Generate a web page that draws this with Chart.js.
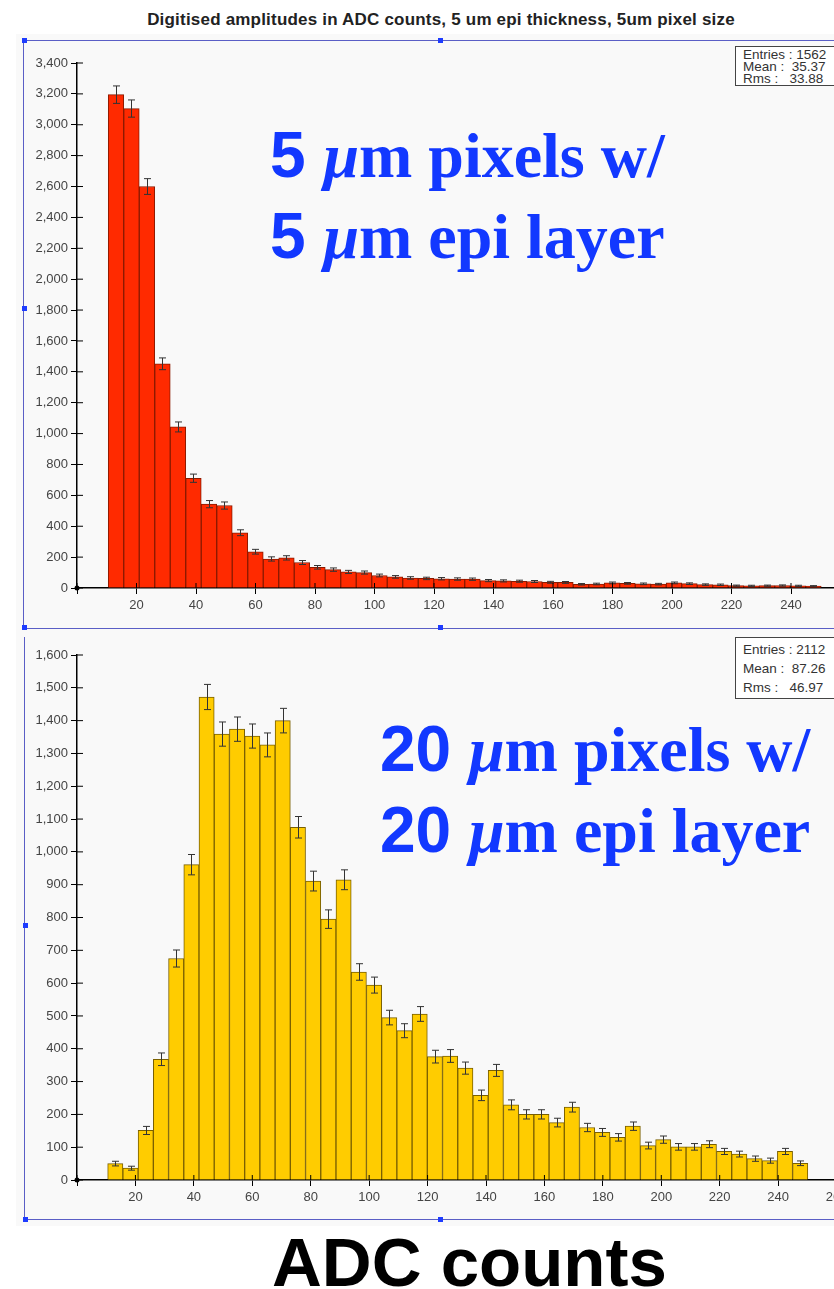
<!DOCTYPE html>
<html>
<head>
<meta charset="utf-8">
<script src="https://cdn.jsdelivr.net/npm/chart.js@4/dist/chart.umd.min.js"></script>
<style>
  body{margin:0;width:834px;height:1289px;overflow:hidden;background:#fff;position:relative;font-family:"Liberation Sans",Arial,sans-serif}
  .abs{position:absolute}
  .panelbg{left:16px;top:34px;width:830px;height:1192px;background:#f9f9f9}
  .frame{border:0 solid #5a5fc6}
  .handle{width:5px;height:5px;background:#1e3cff;margin:-2px 0 0 -2px}
  .title{left:0;top:10px;width:882px;text-align:center;font-weight:bold;font-size:17px;letter-spacing:0.2px;color:#222}
  .stats{background:#fff;border:1px solid #444;color:#333;white-space:pre;overflow:hidden}
  .big{white-space:pre;color:#1238ff;font-size:64px;line-height:64px}
  .big .s{font-family:"Liberation Sans",Arial,sans-serif;font-weight:bold}
  .big .m{font-family:"Liberation Serif",serif;font-weight:bold;font-style:italic}
  .big .t{font-family:"Liberation Serif",serif;font-weight:bold}
  .xlabel{left:272px;top:1228px;font-size:69px;line-height:69px;font-weight:bold;color:#000;white-space:pre}
</style>
</head>
<body>
<div class="abs panelbg"></div>
<div class="abs title">Digitised amplitudes in ADC counts, 5 um epi thickness, 5um pixel size</div>

<canvas id="topChart" class="abs" width="940" height="587" style="left:0;top:40px"></canvas>
<canvas id="bottomChart" class="abs" width="940" height="592" style="left:0;top:627px"></canvas>

<div class="abs frame" style="left:23px;top:40px;width:900px;height:587px;border-top-width:1.5px;border-left-width:1.5px;border-bottom-width:1.5px"></div>
<div class="abs frame" style="left:24px;top:637px;width:900px;height:582px;border-left-width:1.5px;border-bottom-width:1.5px"></div>
<div class="abs handle" style="left:24px;top:40px"></div>
<div class="abs handle" style="left:440px;top:40px"></div>
<div class="abs handle" style="left:24px;top:308px"></div>
<div class="abs handle" style="left:24px;top:627px"></div>
<div class="abs handle" style="left:440px;top:627px"></div>
<div class="abs handle" style="left:25px;top:925px"></div>
<div class="abs handle" style="left:25px;top:1219px"></div>
<div class="abs handle" style="left:440px;top:1219px"></div>

<div class="abs stats" style="left:735px;top:46px;width:120px;height:36px;font-size:13.5px;line-height:12px;padding:2px 0 0 7px">Entries : 1562
Mean :  35.37
Rms :   33.88</div>
<div class="abs stats" style="left:735px;top:637px;width:120px;height:58px;font-size:13.5px;line-height:19px;padding:2px 0 0 7px">Entries : 2112
Mean :  87.26
Rms :   46.97</div>

<div class="abs big" style="left:270px;top:123px"><span class="s">5 </span><span class="m">μ</span><span class="t">m pixels w/</span></div>
<div class="abs big" style="left:270px;top:204px"><span class="s">5 </span><span class="m">μ</span><span class="t">m epi layer</span></div>
<div class="abs big" style="left:380px;top:717px"><span class="s">20 </span><span class="m">μ</span><span class="t">m pixels w/</span></div>
<div class="abs big" style="left:380px;top:798px"><span class="s">20 </span><span class="m">μ</span><span class="t">m epi layer</span></div>

<div class="abs xlabel">ADC counts</div>

<script>
// histogram binning (ADC counts)
const binStart = 10.5;
const binWidth = 5.21;

// 5 um pixels, 5 um epi
const countsTop = [3195,3105,2600,1452,1043,711,543,534,358,235,188,195,165,134,119,104,100,81,72,65,
  62,60,58,57,48,46,44,42,37,36,24,26,33,30,27,25,33,28,22,21,15,14,15,16,14,12];

// 20 um pixels, 20 um epi
const countsBottom = [50,36,151,368,675,961,1472,1359,1374,1353,1326,1400,1075,911,795,915,634,594,495,455,
  506,376,378,341,258,334,229,200,200,175,222,160,145,130,164,105,123,101,101,109,87,79,65,59,87,51];

const xStep = 20;
const xMax = 280;

const tickFont = {family:'Liberation Sans', size:13};

// sqrt(N) error bars, inner tick marks and origin dot
const extras = {
    id:'extras',
    afterDatasetsDraw(chart){
        const ctx = chart.ctx;
        const x = chart.scales.x, y = chart.scales.y;
        const meta = chart.getDatasetMeta(0);
        const vals = chart.data.datasets[0].data;
        ctx.save();
        ctx.strokeStyle = '#333';
        ctx.lineWidth = 1;
        ctx.beginPath();
        meta.data.forEach((bar, i) => {
            const v = vals[i].y;
            const e = Math.sqrt(v);
            const px = Math.round(bar.x) + 0.5;
            const t = y.getPixelForValue(v + e), b = y.getPixelForValue(v - e);
            ctx.moveTo(px, t); ctx.lineTo(px, b);
            ctx.moveTo(px - 3.5, t); ctx.lineTo(px + 3.5, t);
            ctx.moveTo(px - 3.5, b); ctx.lineTo(px + 3.5, b);
        });
        ctx.stroke();

        ctx.strokeStyle = '#000';
        ctx.beginPath();
        y.ticks.forEach(t => {
            const py = y.getPixelForValue(t.value);
            ctx.moveTo(x.left, py); ctx.lineTo(x.left + 6, py);
        });
        x.ticks.forEach(t => {
            if (t.value % xStep) return;
            const px = x.getPixelForValue(t.value);
            ctx.moveTo(px, y.bottom); ctx.lineTo(px, y.bottom - 5);
        });
        ctx.stroke();

        ctx.fillStyle = '#000';
        ctx.beginPath();
        ctx.arc(x.getPixelForValue(0), y.getPixelForValue(0), 2.5, 0, 2 * Math.PI);
        ctx.fill();
        ctx.restore();
    }
};

function makeHist(id, counts, fill, edge, yMax, yStep, pad) {
    const pts = counts.map((c, i) => ({x: binStart + binWidth * (i + 0.5), y: c}));
    new Chart(document.getElementById(id), {
        type:'bar',
        data:{
            datasets:[{
                data:pts,
                backgroundColor:fill,
                borderColor:edge,
                borderWidth:1,
                borderSkipped:'bottom',
                barPercentage:1,
                categoryPercentage:1
            }]
        },
        options:{
            responsive:false,
            animation:false,
            layout:{padding:pad},
            plugins:{
                legend:{display:false},
                tooltip:{enabled:false}
            },
            scales:{
                x:{
                    type:'linear', min:0, max:xMax, offset:false,
                    grid:{drawOnChartArea:false, offset:false, tickLength:6, tickColor:'#000'},
                    border:{color:'#000', width:1.5},
                    ticks:{stepSize:xStep, autoSkip:false, maxRotation:0, padding:4, color:'#444', font:tickFont,
                        callback:v => (v === 0 || v % xStep) ? '' : v},
                    afterFit:s => { s.height = 30; }
                },
                y:{
                    min:0, max:yMax,
                    grid:{drawOnChartArea:false, tickLength:6, tickColor:'#000'},
                    border:{color:'#000', width:1.5},
                    ticks:{stepSize:yStep, padding:3, color:'#444', font:tickFont,
                        callback:v => v.toLocaleString('en-US')},
                    afterFit:s => { s.width = 77; }
                }
            }
        },
        plugins:[extras]
    });
}

makeHist('topChart', countsTop, '#ff2a00', '#8a1a00', 3400, 200, {top:23, bottom:9, left:0, right:30});
makeHist('bottomChart', countsBottom, '#ffcc00', '#7a6000', 1600, 100, {top:28, bottom:9, left:0, right:45});
</script>
</body>
</html>
